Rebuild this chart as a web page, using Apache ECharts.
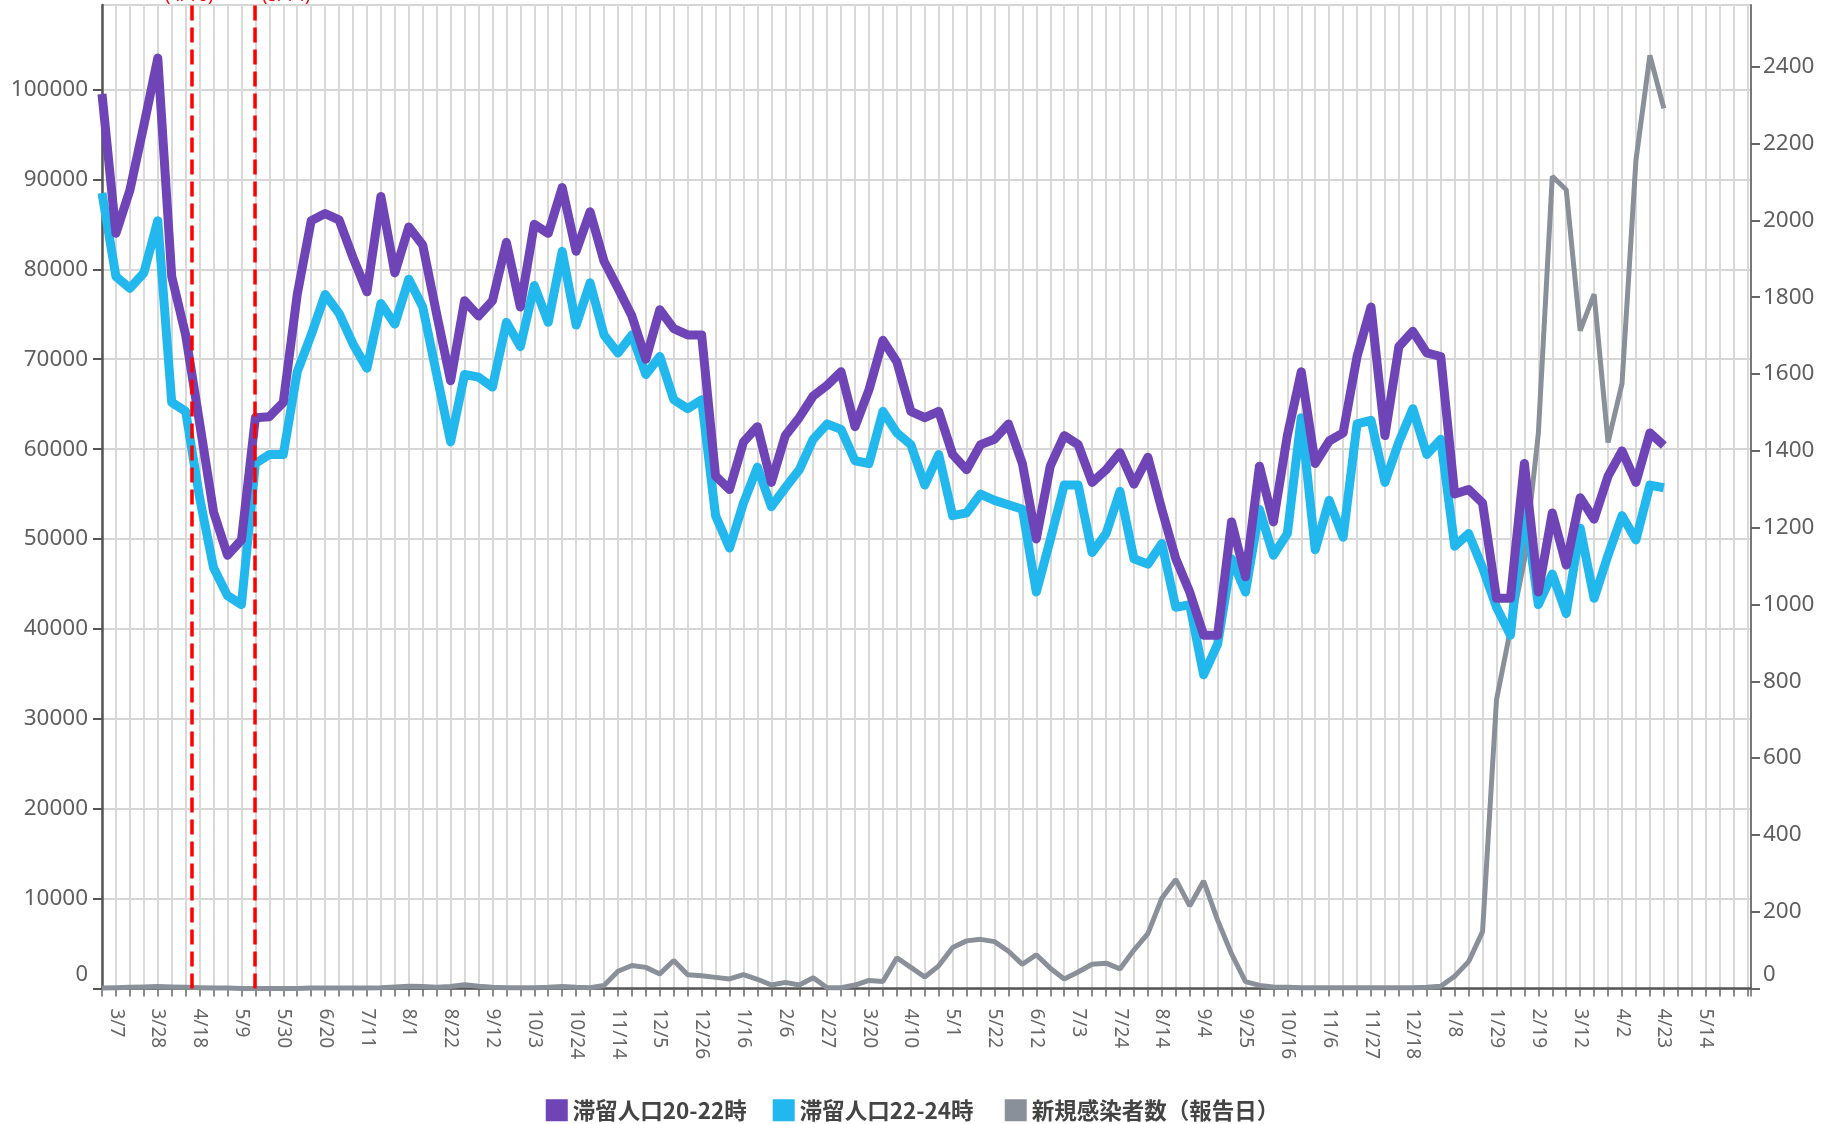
<!DOCTYPE html>
<html>
<head>
<meta charset="utf-8">
<script src="https://cdn.jsdelivr.net/npm/echarts@6/dist/echarts.min.js"></script>
</head>
<body style="margin:0">
<div id="main" style="width:1825px;height:1124px;"></div>

<script type="text/javascript">
// week index 0 = 2/29 (2020), one point per week
var tickLabels = ['3/7','3/28','4/18','5/9','5/30','6/20','7/11','8/1','8/22','9/12','10/3','10/24',
    '11/14','12/5','12/26','1/16','2/6','2/27','3/20','4/10','5/1','5/22','6/12','7/3','7/24','8/14',
    '9/4','9/25','10/16','11/6','11/27','12/18','1/8','1/29','2/19','3/12','4/2','4/23','5/14'];

var stay2022 = [99500,84000,88800,96000,103500,79200,72700,62900,53000,48200,
    49900,63500,63600,65200,77200,85400,86200,85500,81300,77500,
    88100,79600,84700,82700,75000,67600,76500,74800,76500,83000,
    75800,85000,84000,89100,82000,86400,80900,77900,74800,70000,
    75500,73400,72700,72700,57000,55500,60800,62500,56300,61500,
    63500,65900,67100,68600,62500,66600,72100,69700,64200,63500,
    64200,59400,57700,60500,61100,62800,58400,50000,58100,61500,
    60500,56300,57700,59600,56100,59100,53300,47800,44100,39300,
    39300,51900,45800,58100,51900,61500,68600,58400,60900,61800,
    70300,75800,61500,71400,73100,70700,70300,55000,55500,54000,
    43400,43400,58400,44100,52900,47100,54600,52200,57000,59800,
    56300,61800,60400];

var stay2224 = [88500,79200,77900,79600,85400,65200,64200,54600,46800,43700,
    42700,58400,59400,59400,68600,72700,77200,75100,71700,69000,
    76200,73900,78900,75800,68300,60800,68300,68000,66900,74100,
    71400,78200,74100,82000,73800,78500,72700,70700,72700,68300,
    70300,65500,64500,65500,52600,49000,54000,58000,53600,55700,
    57700,61100,62800,62200,58700,58400,64200,61800,60500,56000,
    59400,52600,52900,55000,54300,53800,53300,44100,49900,56000,
    56000,48500,50600,55300,47800,47200,49500,42400,42700,34900,
    38300,47800,44100,53300,48200,50600,63500,48800,54300,50200,
    62800,63200,56300,60800,64500,59400,61100,49200,50600,46800,
    42400,39300,54000,42700,46100,41700,51200,43400,48200,52600,
    49900,56000,55700];

var newCases = [1,2,3,4,5,4,3,2,1,1,
    0,0,0,0,0,1,1,1,1,1,
    2,4,6,5,3,5,10,6,3,2,
    2,2,3,5,3,2,8,45,60,55,
    38,73,36,33,29,25,36,24,9,16,
    9,28,2,2,9,21,18,80,55,30,
    59,107,124,128,122,97,63,88,53,25,
    43,63,66,51,100,143,235,284,215,280,
    178,90,18,8,4,3,2,2,2,2,
    2,2,2,2,2,3,6,32,70,148,
    752,935,1115,1445,2115,2080,1713,1808,1422,1575,
    2157,2430,2292];

var names = ['滞留人口20-22時', '滞留人口22-24時', '新規感染者数（報告日）'];
var colors = ['#6f44b6', '#22b8ee', '#8a9099'];
var declLines = [6.44, 10.97];

function pairs(arr) {
    return arr.map(function (v, i) { return [i, v]; });
}

var zeroRich = { z: { fontSize: 22, color: '#5f5f5f', fontFamily: 'Noto Sans', padding: [0, 0, 28, 0] } };

option = {
    animation: false,
    backgroundColor: '#ffffff',
    grid: { left: 102, right: 74, top: 5, bottom: 135.5 },
    legend: {
        data: names,
        top: 1094,
        left: 'center',
        icon: 'rect',
        itemWidth: 22,
        itemHeight: 22,
        itemGap: 26,
        formatter: function (name) {
            // the second entry sits a little further from the third in the original
            return name === names[1] ? '{t|' + name + '}{gap| }' : '{t|' + name + '}';
        },
        textStyle: {
            fontSize: 22.5, fontWeight: 'bold', color: '#444', fontFamily: 'Noto Sans CJK JP',
            rich: {
                t: { fontSize: 22.5, fontWeight: 'bold', color: '#444', fontFamily: 'Noto Sans CJK JP' },
                gap: { width: 20, fontSize: 22.5 }
            }
        }
    },
    xAxis: {
        type: 'value',
        min: 0,
        max: 118.25,
        interval: 1,
        axisLine: { lineStyle: { color: '#555', width: 2.5 } },
        axisTick: { length: 8, lineStyle: { color: '#666', width: 1.5 } },
        axisLabel: {
            rotate: -90,
            margin: 20,
            fontSize: 19,
            color: '#666',
            fontFamily: 'Noto Sans',
            formatter: function (v) {
                var k = v - 1;
                if (Math.round(v) === v && k >= 0 && k % 3 === 0 && tickLabels[k / 3]) return tickLabels[k / 3];
                return '';
            }
        },
        splitLine: { show: true, lineStyle: { color: '#d9d9d9', width: 2 } }
    },
    yAxis: [{
        type: 'value',
        min: 0,
        max: 109400,
        interval: 10000,
        axisLine: { show: true, lineStyle: { color: '#555', width: 2.5 } },
        axisTick: { show: true, length: 9, lineStyle: { color: '#555', width: 2 } },
        axisLabel: {
            showMaxLabel: false,
            margin: 14,
            fontSize: 22.5,
            color: '#5f5f5f',
            fontFamily: 'Noto Sans',
            formatter: function (v) { return v === 0 ? '{z|0}' : v; },
            rich: zeroRich
        },
        splitLine: { lineStyle: { color: '#d6d6d6', width: 2 } }
    }, {
        type: 'value',
        position: 'right',
        min: 0,
        max: 2561,
        interval: 200,
        axisLine: { show: true, lineStyle: { color: '#777', width: 2 } },
        axisTick: { show: true, length: 9, lineStyle: { color: '#666', width: 2 } },
        axisLabel: {
            showMaxLabel: false,
            margin: 12,
            fontSize: 22.5,
            color: '#5f5f5f',
            fontFamily: 'Noto Sans',
            formatter: function (v) { return v === 0 ? '{z|0}' : v; },
            rich: zeroRich
        },
        splitLine: { show: false }
    }],
    graphic: [
        { type: 'text', x: 165, y: 5, silent: true,
          style: { text: '(4/16)', fill: '#ff0000', font: '18px Noto Sans', verticalAlign: 'bottom' } },
        { type: 'text', x: 262, y: 5, silent: true,
          style: { text: '(5/14)', fill: '#ff0000', font: '18px Noto Sans', verticalAlign: 'bottom' } }
    ],
    series: [{
        name: names[2],
        type: 'line',
        yAxisIndex: 1,
        showSymbol: false,
        symbol: 'none',
        itemStyle: { color: colors[2] },
        lineStyle: { color: colors[2], width: 5 },
        data: pairs(newCases),
        markLine: {
            silent: true,
            symbol: ['none', 'none'],
            label: { show: false },
            lineStyle: { color: '#ff0000', type: [15, 7], width: 3.5 },
            data: declLines.map(function (x) { return { xAxis: x }; })
        },
        z: 2
    }, {
        name: names[1],
        type: 'line',
        showSymbol: false,
        symbol: 'none',
        itemStyle: { color: colors[1] },
        lineStyle: { color: colors[1], width: 9, join: 'round' },
        data: pairs(stay2224),
        z: 3
    }, {
        name: names[0],
        type: 'line',
        showSymbol: false,
        symbol: 'none',
        itemStyle: { color: colors[0] },
        lineStyle: { color: colors[0], width: 9, join: 'round' },
        data: pairs(stay2022),
        z: 4
    }]
};

var myChart = echarts.init(document.getElementById('main'));
myChart.setOption(option);
</script>
</body>
</html>
